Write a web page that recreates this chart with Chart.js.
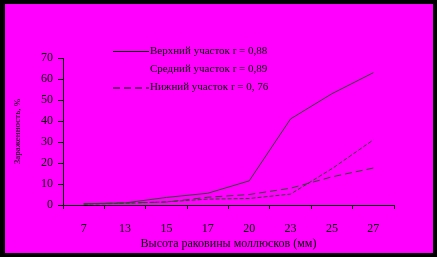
<!DOCTYPE html>
<html><head><meta charset="utf-8">
<script src="https://cdn.jsdelivr.net/npm/chart.js@4/dist/chart.umd.min.js"></script>
<style>
html,body{margin:0;padding:0;background:#000;}
#bg{position:absolute;left:5px;top:4px;width:428px;height:249px;background:#ff00ff;}
#wrap{position:absolute;left:0;top:0;width:437px;height:257px;}
</style></head>
<body>
<div id="bg"></div>
<div id="wrap"><canvas id="c" width="437" height="257"></canvas></div>
<script>
const categories = ['7','13','15','17','20','23','25','27'];
const upperValues = [0.6, 1.0, 3.6, 5.6, 11.5, 41, 53, 63];
const middleValues = [0.4, 0.8, 1.5, 2.8, 3.1, 5.2, 17.3, 31];
const lowerValues = [0.5, 1.0, 1.4, 3.7, 5.0, 8.0, 13.4, 17.6];
const seriesLabels = ['Верхний участок r = 0,88', 'Средний участок r = 0,89', 'Нижний участок r = 0, 76'];
const yTicks = [0,10,20,30,40,50,60,70];
const xTitle = 'Высота раковины моллюсков (мм)';
const yTitle = 'Зараженность, %';

const lineColor = '#2b4d2b';
const FONT = 'Liberation Serif, Times New Roman, serif';

const legendPlugin = {
  id: 'customLegend',
  afterDraw(chart) {
    const ctx = chart.ctx;
    const rows = [51, 69.5, 87.5];
    ctx.save();
    ctx.font = '11px ' + FONT;
    ctx.textBaseline = 'middle';
    ctx.fillStyle = '#000';
    chart.data.datasets.forEach((ds, i) => {
      const y = rows[i];
      if (ds.showLegendLine) {
        ctx.beginPath();
        ctx.strokeStyle = '#000';
        ctx.lineWidth = 1;
        ctx.setLineDash(ds.borderDash || []);
        ctx.moveTo(113, y + 0.5);
        ctx.lineTo(149, y + 0.5);
        ctx.stroke();
      }
      ctx.setLineDash([]);
      ctx.fillText(ds.label, 150, y);
    });
    ctx.restore();
  }
};

new Chart(document.getElementById('c'), {
  type: 'line',
  data: {
    labels: categories,
    datasets: [
      {label: seriesLabels[0], data: upperValues, borderColor: lineColor, borderWidth: 1, pointRadius: 0, tension: 0, showLegendLine: true},
      {label: seriesLabels[1], data: middleValues, borderColor: lineColor, borderWidth: 1, borderDash: [4,2], pointRadius: 0, tension: 0, showLegendLine: false},
      {label: seriesLabels[2], data: lowerValues, borderColor: lineColor, borderWidth: 1, borderDash: [7,4], pointRadius: 0, tension: 0, showLegendLine: true}
    ]
  },
  options: {
    responsive: false,
    animation: false,
    devicePixelRatio: 1,
    layout: {padding: {left: 12, right: 43, top: 58, bottom: 6}},
    plugins: {legend: {display: false}, tooltip: {enabled: false}},
    scales: {
      x: {
        type: 'category',
        offset: true,
        afterFit(scale) { scale.height = 46; },
        grid: {display: true, drawOnChartArea: false, offset: true, color: '#000', tickLength: 4, tickColor: '#000'},
        border: {display: true, color: '#000', width: 1},
        ticks: {color: '#000', font: {family: FONT, size: 12}, padding: 13, maxRotation: 0, autoSkip: false},
        title: {display: true, text: xTitle, color: '#000', font: {family: FONT, size: 12}, padding: {top: 2, bottom: 0}}
      },
      y: {
        min: 0, max: 70,
        afterBuildTicks(scale) { scale.ticks = yTicks.map(v => ({value: v})); },
        afterFit(scale) { scale.width = 51; },
        grid: {display: true, drawOnChartArea: false, color: '#000', tickLength: 5, tickColor: '#000'},
        border: {display: true, color: '#000', width: 1},
        ticks: {color: '#000', font: {family: FONT, size: 12}, padding: 5},
        title: {display: true, text: yTitle, color: '#000', font: {family: FONT, size: 9}, padding: 0}
      }
    }
  },
  plugins: [legendPlugin]
});
</script>
</body></html>
